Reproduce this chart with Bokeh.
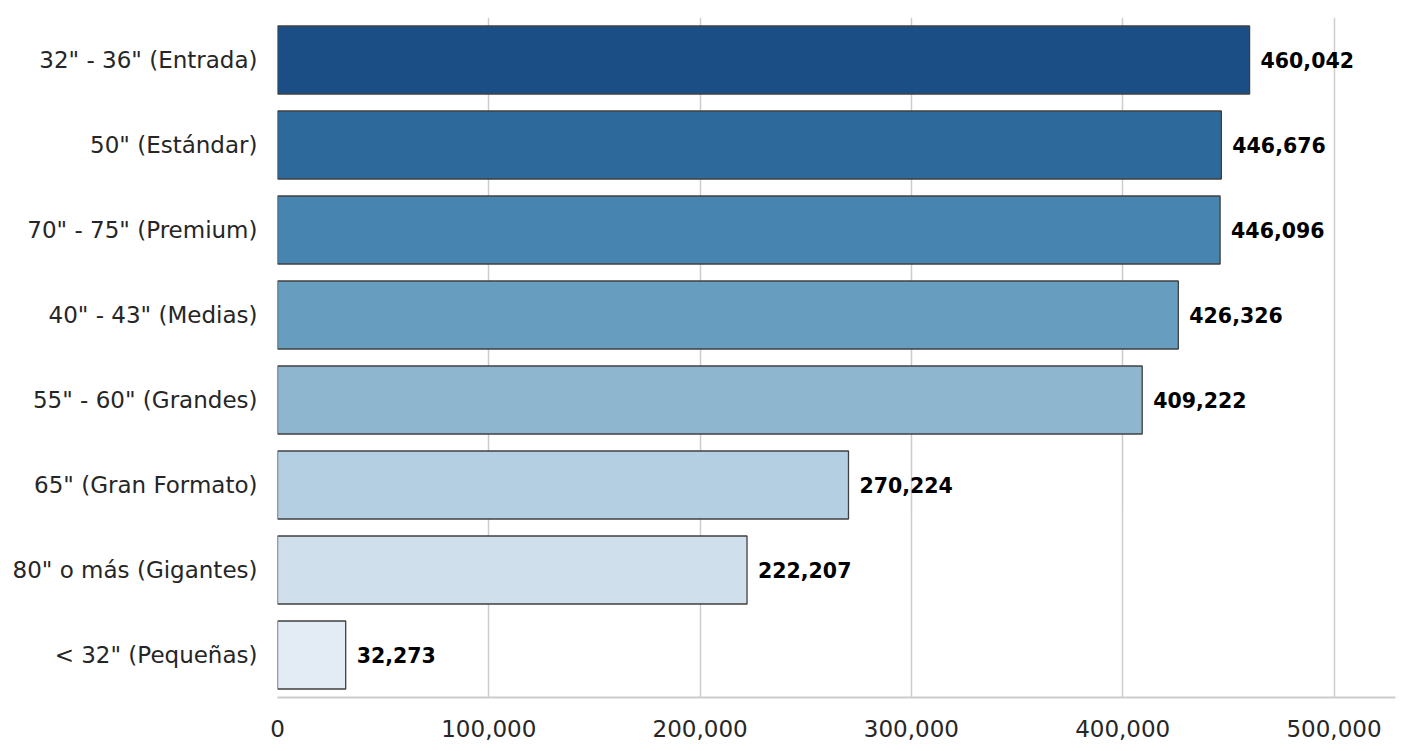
from bokeh.plotting import figure
from bokeh.models import ColumnDataSource, FactorRange, Range1d, NumeralTickFormatter, FixedTicker
from bokeh.core.properties import value
from bokeh.embed import file_html
from bokeh.resources import INLINE

categories = ['32" - 36" (Entrada)', '50" (Estándar)', '70" - 75" (Premium)',
              '40" - 43" (Medias)', '55" - 60" (Grandes)', '65" (Gran Formato)',
              '80" o más (Gigantes)', '< 32" (Pequeñas)']
values = [460042, 446676, 446096, 426326, 409222, 270224, 222207, 32273]
colors = ["#1c4e86", "#2d699b", "#4884b0", "#679dbf", "#8fb6cf", "#b4cfe1", "#cfdfeb", "#e3ebf5"]
x_ticks = [0, 100000, 200000, 300000, 400000, 500000]

labels = [f"{v:,}" for v in values]
src = ColumnDataSource(dict(cat=categories, val=values, color=colors, label=labels))

p = figure(width=1421, height=751, output_backend="svg", toolbar_location=None,
           y_range=FactorRange(*reversed(categories), range_padding=0),
           x_range=Range1d(0, 529100),
           min_border_left=277, min_border_right=26, min_border_top=17, min_border_bottom=54)
p.outline_line_color = None
p.background_fill_color = "white"
p.border_fill_color = "white"

p.hbar(y="cat", right="val", left=0, height=0.8, source=src, fill_color="color",
       line_color="#404040", line_width=1.3)
p.text(x="val", y="cat", text="label", source=src, x_offset=11,
       text_baseline="middle", text_align="left", text_font_style="bold",
       text_font_size="20.5px", text_color="black", text_font=value("DejaVu Sans"))

p.xgrid.grid_line_color = "#cccccc"
p.xgrid.grid_line_width = 1.5
p.xgrid.ticker = FixedTicker(ticks=x_ticks)
p.ygrid.grid_line_color = None

p.xaxis.ticker = FixedTicker(ticks=x_ticks)
p.xaxis.formatter = NumeralTickFormatter(format="0,0")
p.xaxis.axis_line_color = "#cccccc"
p.xaxis.axis_line_width = 2
p.xaxis.major_tick_line_color = None
p.xaxis.minor_tick_line_color = None
p.xaxis.major_tick_out = 0
p.xaxis.major_label_standoff = 22
p.xaxis.major_label_text_font_size = "23px"
p.xaxis.major_label_text_color = "#262626"
p.xaxis.major_label_text_font = "DejaVu Sans"

p.yaxis.axis_line_color = None
p.yaxis.major_tick_line_color = None
p.yaxis.minor_tick_line_color = None
p.yaxis.major_tick_out = 0
p.yaxis.major_label_standoff = 20
p.yaxis.major_label_text_font_size = "23px"
p.yaxis.major_label_text_color = "#262626"
p.yaxis.major_label_text_font = "DejaVu Sans"

open("out.html", "w").write(file_html(p, INLINE))
